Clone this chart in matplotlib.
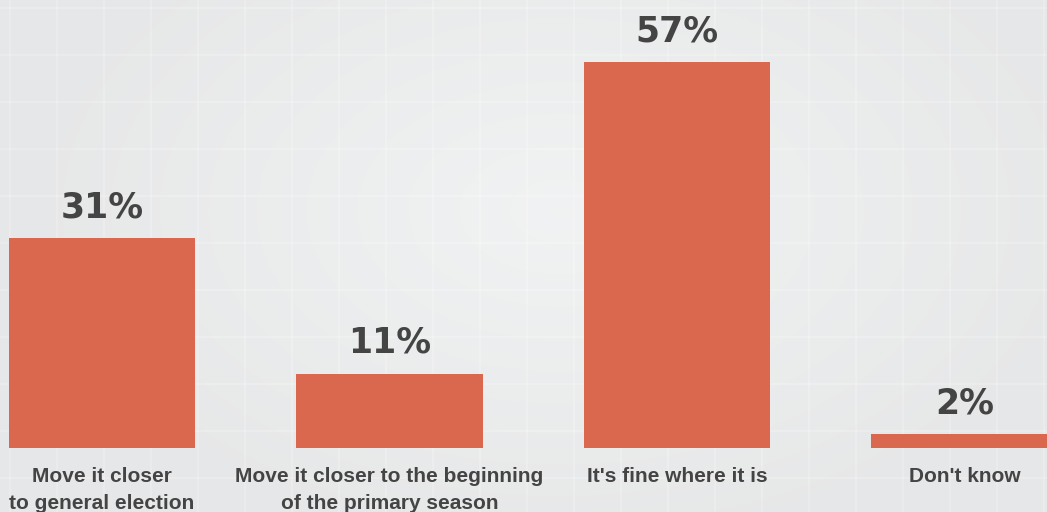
import matplotlib.pyplot as plt
import numpy as np

categories = ["Move it closer\nto general election",
              "Move it closer to the beginning\nof the primary season",
              "It's fine where it is",
              "Don't know"]
values = [31, 11, 57, 2]
value_labels = ["31%", "11%", "57%", "2%"]

bar_color = "#D9684F"
text_color = "#444444"

W, H = 1047, 512
fig = plt.figure(figsize=(W / 100, H / 100), dpi=100)

# background: soft radial glow and faint grid
bg = fig.add_axes([0, 0, 1, 1])
yy, xx = np.mgrid[0:H, 0:W]
r = np.sqrt(((xx - 560) / 520.0) ** 2 + ((yy - 210) / 330.0) ** 2)
glow = np.clip(1 - r, 0, 1)
base = np.array([0.905, 0.908, 0.910])
light = np.array([0.945, 0.950, 0.952])
img = base + (light - base) * glow[..., None]
bg.imshow(img, extent=[0, W, H, 0], aspect="auto")
for gx in np.arange(10, W, 47):
    bg.axvline(gx, color="white", lw=1.2, alpha=0.25)
for gy in np.arange(8, H, 47):
    bg.axhline(gy, color="white", lw=1.2, alpha=0.25)
bg.set_xlim(0, W)
bg.set_ylim(H, 0)
bg.axis("off")

ax = fig.add_axes([0, 0, 1, 1])
ax.patch.set_alpha(0)
x = np.arange(len(values))
ax.bar(x, values, width=0.647, color=bar_color)
ax.set_xlim(-102 / 287.5, (W - 102) / 287.5)
ax.set_ylim(-(H - 448) / 6.77, 448 / 6.77)

for xi, v, lab in zip(x, values, value_labels):
    ax.annotate(lab, (xi, v), xytext=(0, 10), textcoords="offset points",
                ha="center", va="bottom", fontsize=25, fontweight="bold",
                color=text_color, family="DejaVu Sans")
for xi, cat in zip(x, categories):
    ax.annotate(cat, (xi, 0), xytext=(0, -14), textcoords="offset points",
                ha="center", va="top", fontsize=15, fontweight="bold",
                color=text_color, family="Liberation Sans",
                linespacing=1.5)
ax.axis("off")

fig.savefig("out.png", dpi=100)
